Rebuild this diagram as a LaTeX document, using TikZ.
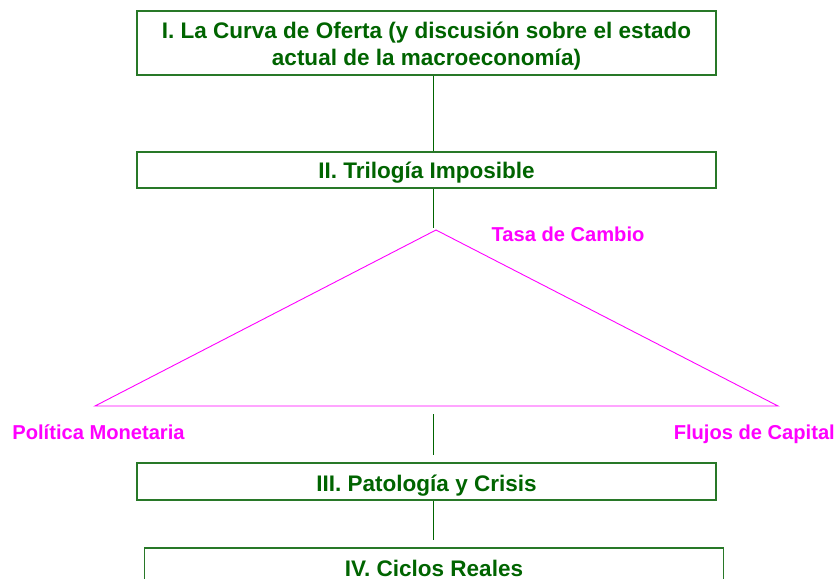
\documentclass[tikz,border=0pt]{standalone}
\usepackage{fontspec}
\setmainfont{Liberation Sans}
\definecolor{txtgreen}{RGB}{0,100,0}
\definecolor{boxgreen}{RGB}{40,120,40}
\definecolor{mag}{RGB}{255,0,255}
\newcommand{\shiftdn}[2]{\raisebox{-#1}[\height][\depth]{#2}}
\begin{document}
\begin{tikzpicture}[x=1bp,y=-1bp,
  topic/.style={draw=boxgreen, line width=1.3bp, text=txtgreen, font=\fontsize{22.6}{27}\selectfont\bfseries, align=center, inner sep=0pt, minimum width=579bp},
  vlabel/.style={text=mag, font=\fontsize{20.2}{24}\selectfont\bfseries, inner sep=0pt},
  link/.style={draw=txtgreen, line width=0.9bp},
  tri/.style={draw=mag, line width=0.9bp}]
\useasboundingbox (0,0) rectangle (835,579);
\node[topic, minimum height=64bp] (b1) at (426.5,43) {\shiftdn{3.5bp}{\begin{tabular}{@{}c@{}}I. La Curva de Oferta (y discusión sobre el estado\\actual de la macroeconomía)\end{tabular}}};
\node[topic, minimum height=36bp] (b2) at (426.5,170) {\shiftdn{3bp}{II. Trilogía Imposible}};
\node[topic, minimum height=37bp] (b3) at (426.5,481.5) {\shiftdn{4bp}{III. Patología y Crisis}};
\node[topic, minimum height=37bp] (b4) at (434,566.5) {\shiftdn{2bp}{IV. Ciclos Reales}};
\coordinate (ax) at (433,0);
\coordinate (e2) at (433,228);
\coordinate (s3) at (433,414);
\coordinate (t3) at (433,455);
\coordinate (e3) at (433,540);
\coordinate (apex) at (436,230);
\coordinate (left) at (95,406);
\coordinate (right) at (778,406);
\draw[link] (b1.south -| ax) -- (b2.north -| ax);
\draw[link] (b2.south -| ax) -- (e2);
\draw[link] (s3) -- (t3);
\draw[link] (b3.south -| ax) -- (e3);
\draw[tri] (apex) -- (left) -- (right) -- cycle;
\node[vlabel] (tc) at (568,234) {Tasa de Cambio};
\node[vlabel] (pm) at (98.5,432) {Política Monetaria};
\node[vlabel, anchor=east] (fc) at (835,434) {Flujos de Capital};
\end{tikzpicture}
\end{document}
